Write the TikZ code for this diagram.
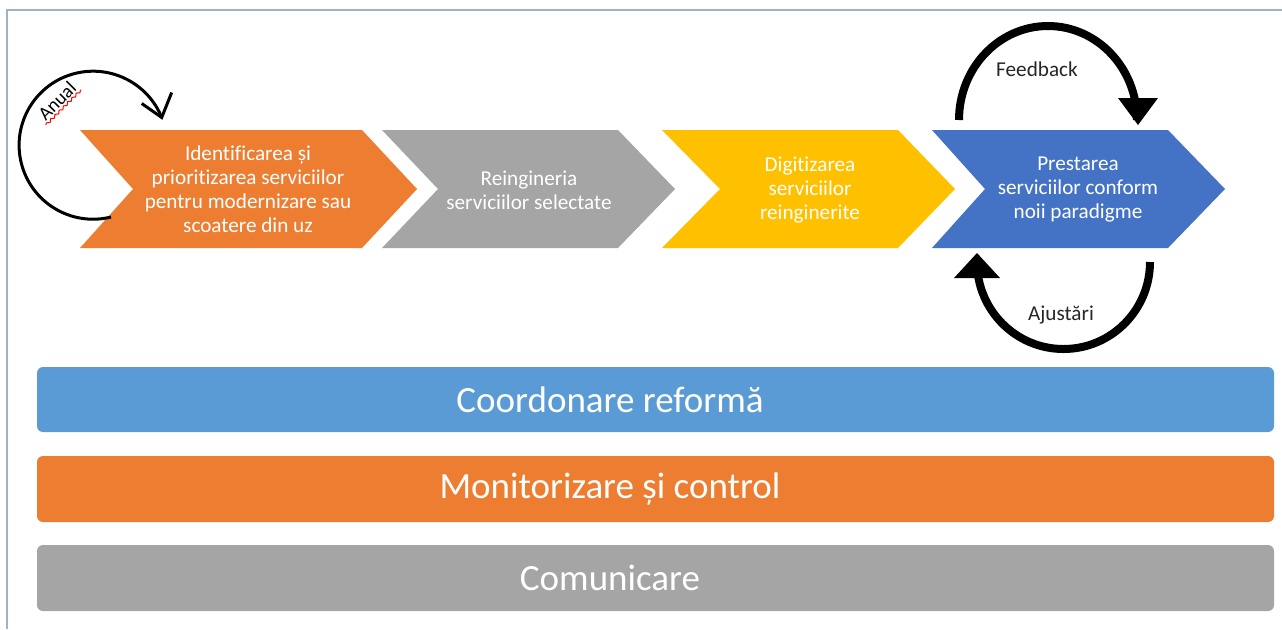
\documentclass[tikz,border=0pt]{standalone}
\usepackage{fontspec}
\setmainfont{Carlito}[Ligatures=NoCommon]
\usepackage{xcolor}
\usepackage{tikz}
\usetikzlibrary{decorations.pathmorphing}
\definecolor{framegray}{HTML}{9CB3C9}
\definecolor{steporange}{HTML}{ED7D31}
\definecolor{stepgray}{HTML}{A5A5A5}
\definecolor{stepyellow}{HTML}{FFC000}
\definecolor{stepblue}{HTML}{4472C4}
\definecolor{barblue}{HTML}{5B9BD5}
\definecolor{loopink}{HTML}{262626}

\begin{document}
\begin{tikzpicture}[x=0.5pt,y=0.5pt]
\tikzstyle{every node}+=[inner sep=0pt]
\tikzstyle{steptext}=[text=white, align=center, font=\fontsize{10.6}{12}\selectfont]
\tikzstyle{bartext}=[text=white, font=\fontsize{18.5}{22}\selectfont]
\tikzstyle{looptext}=[text=loopink, font=\fontsize{10.6}{12}\selectfont]
\useasboundingbox (0,0) rectangle (1282,-629);
\draw [framegray, line width=1pt] (7,-629) -- (7,-10) -- (1282,-10);
\fill [steporange] (80,-130) -- (362,-130) -- (417,-189) -- (362,-248) -- (80,-248) -- (133,-189) -- cycle;
\fill [stepgray] (382,-130) -- (618,-130) -- (675,-189) -- (618,-248) -- (382,-248) -- (438,-189) -- cycle;
\fill [stepyellow] (662,-130) -- (898,-130) -- (955,-189) -- (898,-248) -- (662,-248) -- (720,-189) -- cycle;
\fill [stepblue] (932,-130) -- (1168,-130) -- (1225,-189) -- (1168,-248) -- (932,-248) -- (985,-189) -- cycle;
\node [steptext] (ident) at (248,-189) {Identificarea și\\prioritizarea serviciilor\\pentru modernizare sau\\scoatere din uz};
\node [steptext] (reing) at (529,-190) {Reingineria\\serviciilor selectate};
\node [steptext] (digit) at (810,-190) {Digitizarea\\serviciilor\\reinginerite};
\node [steptext] (prest) at (1078,-190) {Prestarea\\serviciilor conform\\noii paradigme};
\coordinate (anualstart) at (111,-217);
\draw [black, line width=1.5pt] (anualstart) arc [start angle=284, end angle=22, radius=74] coordinate (anualtip);
\draw [black, line width=1.5pt] ([shift={(-20,14)}]anualtip) -- (anualtip) -- ([shift={(10,25)}]anualtip);
\node [looptext, text=black, rotate=45, inner sep=1pt, font=\fontsize{9.6}{12}\selectfont] (anual) at (57,-101) {Anual};
\draw [red, line width=0.5pt, decorate, decoration={snake, amplitude=0.6pt, segment length=3pt}] (anual.south west) -- (anual.south east);
\coordinate (fbstart) at (959,-120);
\draw [black, line width=4pt] (fbstart) arc [start angle=180, end angle=0, x radius=89, y radius=94] coordinate (fbend);
\fill [black] ([shift={(-19,22)}]fbend) -- ([shift={(21,22)}]fbend) -- ([shift={(1,-5)}]fbend) -- cycle;
\node [looptext] (feedb) at (1037,-69) {Feedback};
\coordinate (ajstart) at (1150,-262);
\draw [black, line width=4pt] (ajstart) arc [start angle=0, end angle=-180, x radius=86.5, y radius=87] coordinate (ajend);
\fill [black] ([shift={(-23,-16)}]ajend) -- ([shift={(23,-16)}]ajend) -- ([shift={(0,9)}]ajend) -- cycle;
\node [looptext] (ajust) at (1061,-315) {Ajustări};
\fill [barblue, rounded corners=3pt] (37,-367) rectangle (1274,-432);
\fill [steporange, rounded corners=3pt] (37,-456) rectangle (1274,-522);
\fill [stepgray, rounded corners=3pt] (37,-545) rectangle (1274,-611);
\node [bartext] (coord) at (610,-400) {Coordonare reformă};
\node [bartext] (monit) at (610,-489) {Monitorizare și control};
\node [bartext] (comun) at (610,-578) {Comunicare};
\end{tikzpicture}
\end{document}
